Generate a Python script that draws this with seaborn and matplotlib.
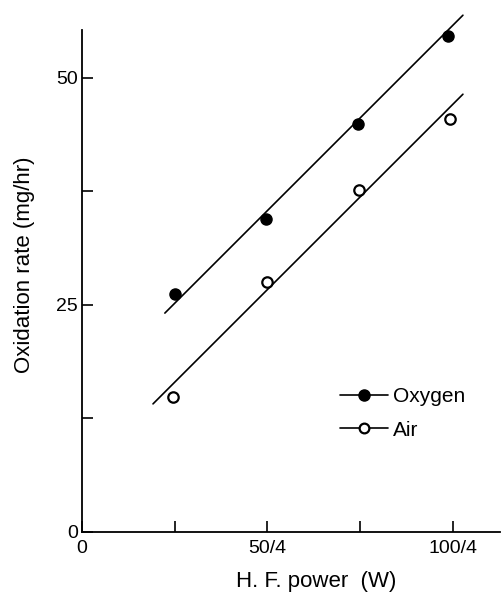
import matplotlib
matplotlib.use("Agg")
import matplotlib.pyplot as plt
from matplotlib.lines import Line2D
import numpy as np
import pandas as pd
import seaborn as sns

# ── Data ─────────────────────────────────────────────────────────────────────
power_oxygen = [6.25, 12.4, 18.6, 24.7]
rate_oxygen  = [26.2, 34.5, 44.9, 54.6]
power_air    = [6.15, 12.5, 18.7, 24.8]
rate_air     = [14.9, 27.5, 37.6, 45.5]

# hand-drawn trend lines (end points)
fit_oxygen_x = [5.6, 25.7]
fit_oxygen_y = [24.1, 56.9]
fit_air_x    = [4.8, 25.7]
fit_air_y    = [14.1, 48.2]

x_ticks       = [0, 12.5, 25]
x_tick_labels = ["0", "50/4", "100/4"]
x_minor       = [6.25, 18.75]
y_ticks       = [0, 25, 50]
y_minor       = [12.5, 37.5]

# ── Style ────────────────────────────────────────────────────────────────────
sns.set_theme(style="ticks")
plt.rcParams["font.family"] = ["Liberation Sans", "DejaVu Sans"]
plt.rcParams["text.color"] = "black"

fig = plt.figure(figsize=(5.02, 5.95), dpi=100)
ax = fig.add_axes([0.163, 0.106, 0.833, 0.844])

df_fit_o = pd.DataFrame({"x": fit_oxygen_x, "y": fit_oxygen_y})
df_fit_a = pd.DataFrame({"x": fit_air_x, "y": fit_air_y})
sns.lineplot(data=df_fit_o, x="x", y="y", color="black", lw=1.2, ax=ax, clip_on=False)
sns.lineplot(data=df_fit_a, x="x", y="y", color="black", lw=1.2, ax=ax, clip_on=False)

ax.plot(power_oxygen, rate_oxygen, "o", ms=8, color="black", mfc="black", zorder=3)
ax.plot(power_air, rate_air, "o", ms=7.5, color="black", mfc="white", mew=1.6, zorder=3)

ax.set_xlim(0, 28.2)
ax.set_ylim(0, 55.3)
sns.despine(ax=ax)
for s in ["left", "bottom"]:
    ax.spines[s].set_linewidth(1.3)
    ax.spines[s].set_color("black")

ax.set_xticks(x_ticks)
ax.set_xticklabels(x_tick_labels)
ax.set_xticks(x_minor, minor=True)
ax.set_yticks(y_ticks)
ax.set_yticks(y_minor, minor=True)
ax.tick_params(which="both", direction="in", length=8, width=1.2, color="black",
               labelsize=14, labelcolor="black")
ax.tick_params(axis="x", pad=6)
ax.tick_params(axis="y", pad=3)

ax.set_xlabel("H. F. power  (W)", fontsize=16, color="black")
ax.set_ylabel("Oxidation rate (mg/hr)", fontsize=16, color="black")
ax.xaxis.set_label_coords(0.56, -0.077)
ax.yaxis.set_label_coords(-0.112, 0.532)

handles = [
    Line2D([], [], color="black", lw=1.2, marker="o", ms=8, mfc="black"),
    Line2D([], [], color="black", lw=1.2, marker="o", ms=7, mfc="white", mew=1.6),
]
leg = ax.legend(handles, ["Oxygen", "Air"], loc="center left",
                bbox_to_anchor=(0.572, 0.236), frameon=False, fontsize=15,
                handlelength=2.3, handletextpad=0.25, labelspacing=0.7)
for t in leg.get_texts():
    t.set_color("black")

fig.savefig("out.png", dpi=100)
